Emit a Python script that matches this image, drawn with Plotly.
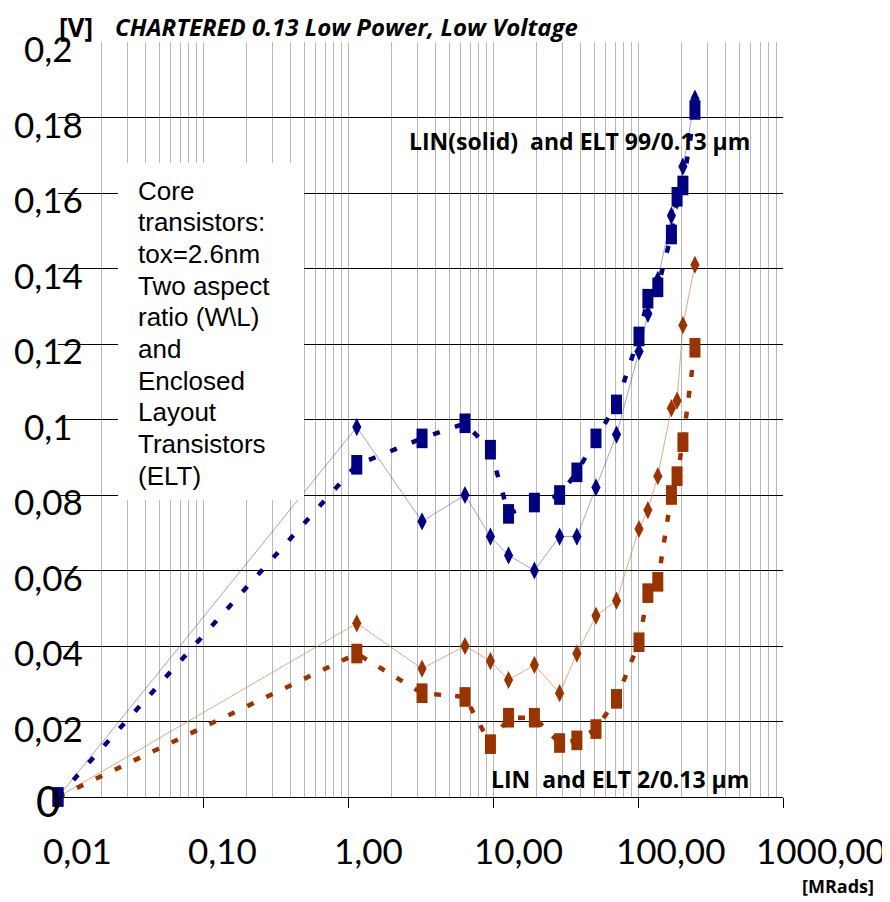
import plotly.graph_objects as go
import math

# ---------------- data ----------------
dose_lin = [0.01, 1.15, 3.24, 6.41, 9.6, 12.8, 19.3, 28.8, 37.9, 51.3, 71.1, 101.6, 117, 137, 170, 186, 204, 247]
dose_elt = dose_lin

blue_lin = [0, 0.098, 0.073, 0.080, 0.069, 0.064, 0.060, 0.069, 0.069, 0.082, 0.096, 0.118, 0.128, 0.137, 0.154, 0.158, 0.167, 0.185]
blue_elt = [0, 0.088, 0.095, 0.099, 0.092, 0.075, 0.078, 0.080, 0.086, 0.095, 0.104, 0.122, 0.132, 0.135, 0.149, 0.159, 0.162, 0.182]
orange_lin = [0, 0.046, 0.034, 0.040, 0.036, 0.031, 0.035, 0.0275, 0.038, 0.048, 0.052, 0.071, 0.076, 0.085, 0.103, 0.105, 0.125, 0.141]
orange_elt = [0, 0.038, 0.0275, 0.0265, 0.014, 0.021, 0.021, 0.0143, 0.015, 0.018, 0.026, 0.041, 0.054, 0.057, 0.080, 0.085, 0.094, 0.119]

x_tick_vals = [0.01, 0.1, 1, 10, 100, 1000]
x_tick_text = ["0,01", "0,10", "1,00", "10,00", "100,00", "1000,00"]
y_tick_vals = [0.2, 0.18, 0.16, 0.14, 0.12, 0.1, 0.08, 0.06, 0.04, 0.02, 0]
y_tick_text = ["0,2", "0,18", "0,16", "0,14", "0,12", "0,1", "0,08", "0,06", "0,04", "0,02", "0"]

box_lines = ["Core", "transistors:", "tox=2.6nm", "Two aspect", "ratio (W\\L)", "and",
             "Enclosed", "Layout", "Transistors", "(ELT)"]

title_text = "CHARTERED 0.13 Low Power, Low Voltage"
label_high = "LIN(solid)\u00a0 and ELT 99/0.13 µm"
label_low = "LIN\u00a0 and ELT 2/0.13 µm"

# ---------------- style / layout ----------------
NAVY = "#000080"
RUST = "#993300"
OFF = 8                      # default page margin of the html body
W, H = 890 - OFF, 902 - OFF
PL, PR, PT, PB = 58, 783, 42, 797   # plot area in page pixels
L, T = PL - OFF, PT - OFF
R, B = W - (PR - OFF), H - (PB - OFF)

def px_x(px):
    return (px - PL) / (PR - PL)

def px_y(py):
    return (PB - py) / (PB - PT)

fig = go.Figure()

fig.add_trace(go.Scatter(
    x=dose_lin, y=orange_lin, mode="lines+markers", cliponaxis=False,
    line=dict(color="rgba(215,140,100,0.75)", width=1),
    marker=dict(symbol="diamond-tall", size=13, color=RUST, line=dict(width=0)),
    showlegend=False))
fig.add_trace(go.Scatter(
    x=dose_lin, y=blue_lin, mode="lines+markers", cliponaxis=False,
    line=dict(color="rgba(70,70,180,0.5)", width=1),
    marker=dict(symbol="diamond-tall", size=13, color=NAVY, line=dict(width=0)),
    showlegend=False))
fig.add_trace(go.Scatter(
    x=dose_elt, y=orange_elt, mode="lines+markers", cliponaxis=False,
    line=dict(color=RUST, width=4.5, dash="7px,14px"),
    marker=dict(symbol="line-ns", size=14, color=RUST, line=dict(width=11, color=RUST)),
    showlegend=False))
fig.add_trace(go.Scatter(
    x=dose_elt, y=blue_elt, mode="lines+markers", cliponaxis=False,
    line=dict(color=NAVY, width=4.5, dash="7px,16px"),
    marker=dict(symbol="line-ns", size=14, color=NAVY, line=dict(width=11, color=NAVY)),
    showlegend=False))

GRID_GREY = "#b8b8b8"
fig.update_xaxes(
    type="log", range=[-2, 3], dtick=1,
    showgrid=True, gridcolor=GRID_GREY, gridwidth=1,
    minor=dict(dtick="D1", showgrid=True, gridcolor=GRID_GREY, gridwidth=1, ticks=""),
    ticks="outside", ticklen=10, tickcolor="black", tickwidth=1,
    showline=True, linecolor="black", linewidth=1,
    showticklabels=False, zeroline=False)
fig.update_yaxes(
    range=[0, 0.2], dtick=0.02, tick0=0,
    showgrid=True, gridcolor="black", gridwidth=1,
    showticklabels=False, ticks="", showline=False, zeroline=False)

annotations = []
# y tick labels
for v, t in zip(y_tick_vals, y_tick_text):
    annotations.append(dict(
        text=t, xref="paper", yref="y", x=px_x(48), y=v, xanchor="center", yanchor="middle",
        yshift=-6 if t != "0" else -4, showarrow=False,
        font=dict(family="Lato", size=35 if t != "0" else 42, color="black")))
# x tick labels
x_shifts = [19, 19, 20, 25, 32, 38]
for v, t, s in zip(x_tick_vals, x_tick_text, x_shifts):
    annotations.append(dict(
        text=t, xref="x", yref="paper", x=math.log10(v), y=px_y(850), xanchor="center", yanchor="middle",
        xshift=s, showarrow=False, font=dict(family="Lato", size=35, color="black")))

annotations += [
    dict(text="<b>[V]</b>", xref="paper", yref="paper", x=px_x(57), y=px_y(27), xanchor="left", yanchor="middle",
         showarrow=False, font=dict(family="Open Sans", size=26, color="black")),
    dict(text="<b><i>" + title_text + "</i></b>", xref="paper", yref="paper", x=px_x(113), y=px_y(26),
         xanchor="left", yanchor="middle", showarrow=False, font=dict(family="Open Sans", size=24, color="black")),
    dict(text="<b>" + label_high + "</b>", xref="paper", yref="paper", x=px_x(407), y=px_y(141),
         xanchor="left", yanchor="middle", showarrow=False, font=dict(family="Open Sans", size=23, color="black")),
    dict(text="<b>" + label_low + "</b>", xref="paper", yref="paper", x=px_x(489), y=px_y(779),
         xanchor="left", yanchor="middle", showarrow=False, font=dict(family="Open Sans", size=23, color="black")),
    dict(text="<b>[MRads]</b>", xref="paper", yref="paper", x=px_x(800), y=px_y(886),
         xanchor="left", yanchor="middle", showarrow=False, font=dict(family="Open Sans", size=18, color="black")),
]
for i, line in enumerate(box_lines):
    annotations.append(dict(
        text=line, xref="paper", yref="paper", x=px_x(136), y=px_y(190.5 + i * 31.7),
        xanchor="left", yanchor="middle", showarrow=False,
        font=dict(family="Liberation Sans", size=26, color="black")))

fig.update_layout(
    width=W, height=H, margin=dict(l=L, r=R, t=T, b=B),
    paper_bgcolor="white", plot_bgcolor="white",
    annotations=annotations,
    shapes=[dict(type="rect", xref="paper", yref="paper",
                 x0=px_x(118), x1=px_x(304), y0=px_y(500), y1=px_y(163),
                 fillcolor="white", line=dict(width=0), layer="above")],
    showlegend=False)

fig.write_html("out.html")
